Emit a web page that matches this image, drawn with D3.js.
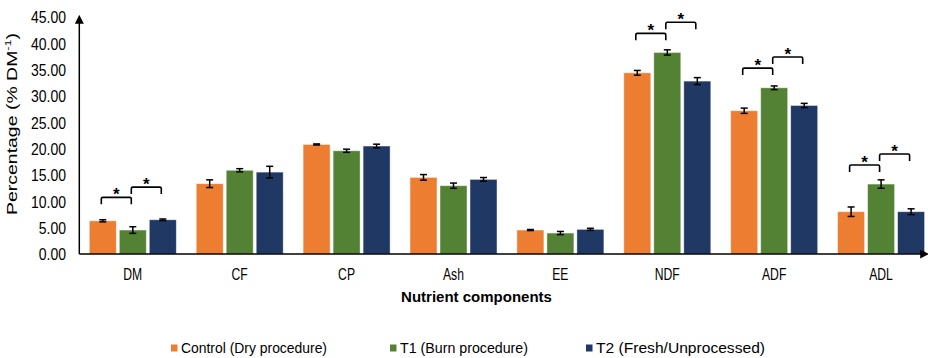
<!DOCTYPE html>
<html>
<head>
<meta charset="utf-8">
<script src="https://cdn.jsdelivr.net/npm/d3@7/dist/d3.min.js"></script>
<style>
  html, body { margin: 0; padding: 0; background: #fff; }
  svg { display: block; }
  text { font-family: "Liberation Sans", Arial, sans-serif; fill: #000; }
</style>
</head>
<body>
<svg id="chart" width="928" height="358"></svg>
<script>
// ---- data ----
const categories = ["DM", "CF", "CP", "Ash", "EE", "NDF", "ADF", "ADL"];
const seriesNames = ["Control (Dry procedure)", "T1 (Burn procedure)", "T2 (Fresh/Unprocessed)"];
const seriesColors = ["#ED7D31", "#548235", "#203864"];
const controlValues = [6.3, 13.35, 20.8, 14.55, 4.55, 34.4, 27.2, 8.03];
const t1Values      = [4.55, 15.9, 19.6, 12.97, 3.98, 38.27, 31.56, 13.28];
const t2Values      = [6.5, 15.55, 20.5, 14.17, 4.68, 32.83, 28.2, 8.03];
const controlErr    = [0.2, 0.73, 0.1, 0.53, 0.1, 0.45, 0.5, 0.9];
const t1Err         = [0.63, 0.3, 0.3, 0.5, 0.3, 0.5, 0.35, 0.8];
const t2Err         = [0.15, 1.1, 0.35, 0.35, 0.2, 0.66, 0.4, 0.55];
const yTicks = [0, 5, 10, 15, 20, 25, 30, 35, 40, 45];
// significance brackets: category, from series index, to series index, bracket level (% DM)
const bracketCats  = ["DM", "DM", "NDF", "NDF", "ADF", "ADF", "ADL", "ADL"];
const bracketFrom  = [0, 1, 0, 1, 0, 1, 0, 1];
const bracketTo    = [1, 2, 1, 2, 1, 2, 1, 2];
const bracketLevel = [10.76, 12.7, 41.9, 44.0, 35.3, 37.4, 16.9, 19.0];

const values = [controlValues, t1Values, t2Values];
const errors = [controlErr, t1Err, t2Err];

const svg = d3.select("#chart");

const y = d3.scaleLinear().domain([0, 45]).range([254, 17]);
const x0 = d3.scaleBand().domain(categories).range([79.3, 934.5]).padding(0);
const x1 = d3.scaleBand().domain(d3.range(3)).range([10, 97]).paddingInner(0.1).paddingOuter(0);

const rows = [];
categories.forEach((c, i) => {
  for (let s = 0; s < 3; s++) rows.push({ c, s, v: values[s][i], e: errors[s][i] });
});

// bars
svg.append("g").selectAll("rect").data(rows).join("rect")
  .attr("x", d => x0(d.c) + x1(d.s))
  .attr("y", d => y(d.v))
  .attr("width", x1.bandwidth())
  .attr("height", d => y(0) - y(d.v))
  .attr("fill", d => seriesColors[d.s])
  .attr("stroke", "#ffffff")
  .attr("stroke-opacity", 0.55)
  .attr("stroke-width", 0.8);

// error bars
const eg = svg.append("g").attr("stroke", "#000").attr("stroke-width", 1.5).attr("fill", "none");
rows.forEach(d => {
  const cx = x0(d.c) + x1(d.s) + x1.bandwidth() / 2;
  const y1 = y(d.v + d.e), y2 = y(d.v - d.e);
  eg.append("line").attr("x1", cx).attr("x2", cx).attr("y1", y1).attr("y2", y2);
  eg.append("line").attr("x1", cx - 3.5).attr("x2", cx + 3.5).attr("y1", y1).attr("y2", y1);
  eg.append("line").attr("x1", cx - 3.5).attr("x2", cx + 3.5).attr("y1", y2).attr("y2", y2);
});

// brackets
const bg = svg.append("g");
bracketCats.forEach((c, i) => {
  const xa = x0(c) + x1(bracketFrom[i]) + x1.bandwidth() / 2 - 1.5;
  const xb = x0(c) + x1(bracketTo[i]) + x1.bandwidth() / 2 - 1.5;
  const yt = y(bracketLevel[i]);
  bg.append("path")
    .attr("d", `M${xa},${yt + 7} L${xa},${yt + 1.5} Q${xa},${yt} ${xa + 1.5},${yt} L${xb - 1.5},${yt} Q${xb},${yt} ${xb},${yt + 1.5} L${xb},${yt + 7}`)
    .attr("fill", "none").attr("stroke", "#000").attr("stroke-width", 1.6);
  bg.append("text").attr("x", (xa + xb) / 2).attr("y", yt + 3)
    .attr("text-anchor", "middle").attr("font-size", 17).attr("font-weight", "bold").text("*");
});

// axes lines with arrows
svg.append("defs").append("marker")
  .attr("id", "arrow").attr("viewBox", "0 0 10 10").attr("refX", 2).attr("refY", 5)
  .attr("markerWidth", 6).attr("markerHeight", 6).attr("orient", "auto")
  .append("path").attr("d", "M0,0 L10,5 L0,10 z").attr("fill", "#000");
svg.append("line").attr("x1", 79.3).attr("x2", 79.3).attr("y1", 254).attr("y2", 22)
  .attr("stroke", "#000").attr("stroke-width", 1.5).attr("marker-end", "url(#arrow)");
svg.append("line").attr("x1", 79.3).attr("x2", 922).attr("y1", 254).attr("y2", 254)
  .attr("stroke", "#000").attr("stroke-width", 1.5).attr("marker-end", "url(#arrow)");

// y tick labels (condensed)
const yAxis = d3.axisLeft(y).tickValues(yTicks).tickSize(0).tickPadding(0).tickFormat(d3.format(".2f"));
const ya = svg.append("g").attr("transform", "translate(66,0)").call(yAxis);
ya.select(".domain").remove();
ya.selectAll("text")
  .attr("font-family", "Liberation Sans, Arial, sans-serif")
  .attr("font-size", 16).attr("fill", "#000")
  .attr("x", 0).attr("dy", "0.36em")
  .attr("transform", function(d) { return `translate(0,${y(d)}) scale(0.875,1) translate(0,${-y(d)})`; });

// x category labels (condensed)
const xAxis = d3.axisBottom(x0).tickSize(0).tickPadding(0);
const xa = svg.append("g").attr("transform", "translate(0,254)").call(xAxis);
xa.select(".domain").remove();
xa.selectAll(".tick text")
  .attr("font-family", "Liberation Sans, Arial, sans-serif")
  .attr("font-size", 16).attr("fill", "#000").attr("y", 0).attr("dy", 0)
  .attr("transform", "translate(0,25.5) scale(0.76,1)");

// axis titles
svg.append("text").attr("x", 476.5).attr("y", 302).attr("text-anchor", "middle")
  .attr("font-size", 15).attr("font-weight", "bold").text("Nutrient components");

const yt = svg.append("text").attr("transform", "translate(17,124) rotate(-90)")
  .attr("text-anchor", "middle").attr("font-size", 14)
  .attr("textLength", 182).attr("lengthAdjust", "spacingAndGlyphs");
yt.append("tspan").text("Percentage (% DM");
yt.append("tspan").attr("font-size", 9).attr("dy", -6).text("-1");
yt.append("tspan").attr("dy", 6).text(")");

// legend
const legX = [171, 390, 586];
const legW = [146, 128, 169];
const lg = svg.append("g");
seriesNames.forEach((n, i) => {
  lg.append("rect").attr("x", legX[i]).attr("y", 344.5).attr("width", 6.5).attr("height", 7).attr("fill", seriesColors[i]);
  lg.append("text").attr("x", legX[i] + 10).attr("y", 352.5).attr("font-size", 14)
    .attr("textLength", legW[i]).attr("lengthAdjust", "spacingAndGlyphs").text(n);
});
</script>
</body>
</html>
